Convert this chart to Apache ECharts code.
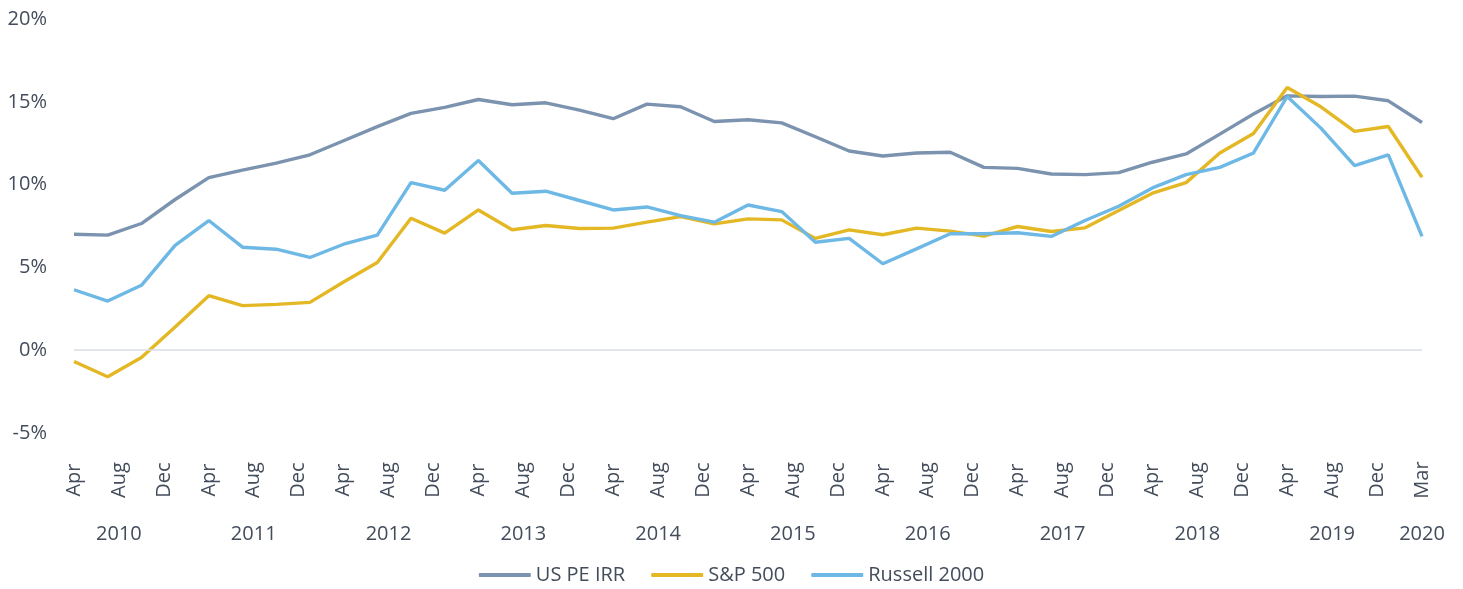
<!DOCTYPE html>
<html>
<head>
<meta charset="utf-8">
<script src="https://cdn.jsdelivr.net/npm/echarts@6/dist/echarts.min.js"></script>
<style>
  html, body { margin: 0; padding: 0; background: #fff; }
  #chart { width: 1463px; height: 589px; }
</style>
</head>
<body>
<div id="chart"></div>
<script>
// quarter-end dates, Mar 2010 .. Mar 2020
const quarters = [
  '2010-03', '2010-06', '2010-09', '2010-12',
  '2011-03', '2011-06', '2011-09', '2011-12',
  '2012-03', '2012-06', '2012-09', '2012-12',
  '2013-03', '2013-06', '2013-09', '2013-12',
  '2014-03', '2014-06', '2014-09', '2014-12',
  '2015-03', '2015-06', '2015-09', '2015-12',
  '2016-03', '2016-06', '2016-09', '2016-12',
  '2017-03', '2017-06', '2017-09', '2017-12',
  '2018-03', '2018-06', '2018-09', '2018-12',
  '2019-03', '2019-06', '2019-09', '2019-12',
  '2020-03'
]

const usPeIrr = [7.0, 6.95, 7.65, 9.1, 10.42, 10.87, 11.3, 11.8, 12.65, 13.5, 14.3, 14.66, 15.14,
  14.82, 14.94, 14.5, 13.98, 14.86, 14.7, 13.81, 13.92, 13.73, 12.89, 12.03, 11.73, 11.91, 11.95,
  11.04, 10.98, 10.64, 10.6, 10.72, 11.35, 11.85, 13.05, 14.26, 15.36, 15.32, 15.34, 15.06, 13.75]

const sp500 = [-0.68, -1.6, -0.44, 1.4, 3.29, 2.69, 2.77, 2.89, 4.12, 5.3, 7.97, 7.07, 8.47,
  7.27, 7.53, 7.35, 7.37, 7.73, 8.07, 7.63, 7.93, 7.87, 6.75, 7.27, 6.97, 7.37, 7.19,
  6.89, 7.47, 7.17, 7.39, 8.43, 9.48, 10.12, 11.91, 13.09, 15.86, 14.7, 13.21, 13.51, 10.44]

const russell2000 = [3.65, 2.97, 3.92, 6.33, 7.83, 6.22, 6.1, 5.6, 6.4, 6.95, 10.12, 9.66, 11.45,
  9.48, 9.6, 9.04, 8.47, 8.65, 8.13, 7.73, 8.77, 8.37, 6.52, 6.75, 5.22, 6.12, 7.03,
  7.03, 7.09, 6.87, 7.83, 8.69, 9.8, 10.6, 11.04, 11.91, 15.32, 13.41, 11.14, 11.8, 6.87]

const monthNames = ['Jan', 'Feb', 'Mar', 'Apr', 'May', 'Jun', 'Jul', 'Aug', 'Sep', 'Oct', 'Nov', 'Dec']

// x axis runs in months, 0 = 1 Apr 2010 (end of Mar 2010), 120 = 31 Mar 2020
const X_MAX = 120
function monthOffset(q) {
  let [y, m] = q.split('-').map(Number)
  return (y - 2010) * 12 + (m - 3)
}
function tickDate(v) {
  // the axis end is shown as the last day of the period
  return new Date(2010, 3 + v, v === X_MAX ? 0 : 1)
}
function pairs(values) {
  return quarters.map((q, i) => [monthOffset(q), values[i]])
}

const textColor = '#434c5b'
const font = '"Open Sans", sans-serif'

let chart = echarts.init(document.getElementById('chart'))
chart.setOption({
  animation: false,
  textStyle: { fontFamily: font },
  grid: { left: 74, right: 41, top: 19, bottom: 156 },
  legend: {
    top: 560,
    left: 'center',
    icon: 'roundRect',
    itemWidth: 52,
    itemHeight: 4,
    itemGap: 26,
    textStyle: { color: textColor, fontSize: 20, fontFamily: font },
    data: ['US PE IRR', 'S&P 500', 'Russell 2000']
  },
  xAxis: [
    {
      type: 'value',
      min: 0,
      max: X_MAX,
      interval: 4,
      axisLine: { show: false },
      axisTick: { show: false },
      splitLine: { show: false },
      axisLabel: {
        rotate: 90,
        align: 'center',
        verticalAlign: 'middle',
        margin: 47,
        color: textColor,
        fontSize: 20,
        fontFamily: font,
        formatter: v => monthNames[tickDate(v).getMonth()]
      }
    },
    {
      type: 'value',
      position: 'bottom',
      min: 0,
      max: X_MAX,
      interval: 4,
      axisLine: { show: false },
      axisTick: { show: false },
      splitLine: { show: false },
      axisLabel: {
        margin: 91,
        color: textColor,
        fontSize: 20,
        fontFamily: font,
        formatter: v => {
          let d = tickDate(v)
          return (d.getMonth() === 7 || v === X_MAX) ? String(d.getFullYear()) : ''
        }
      }
    }
  ],
  yAxis: {
    type: 'value',
    min: -5,
    max: 20,
    interval: 5,
    axisLine: { show: false },
    axisTick: { show: false },
    splitLine: { show: false },
    axisLabel: {
      margin: 27,
      color: textColor,
      fontSize: 20,
      fontFamily: font,
      formatter: '{value}%'
    }
  },
  series: [
    {
      name: 'US PE IRR',
      type: 'line',
      data: pairs(usPeIrr),
      showSymbol: false,
      color: '#7b93ae',
      lineStyle: { width: 3.4, color: '#7b93ae' },
      markLine: {
        silent: true,
        symbol: ['none', 'none'],
        label: { show: false },
        lineStyle: { color: '#d9dee6', width: 1.5, type: 'solid' },
        data: [{ yAxis: 0 }]
      }
    },
    {
      name: 'S&P 500',
      type: 'line',
      data: pairs(sp500),
      showSymbol: false,
      color: '#e3b824',
      lineStyle: { width: 3.4, color: '#e3b824' }
    },
    {
      name: 'Russell 2000',
      type: 'line',
      data: pairs(russell2000),
      showSymbol: false,
      color: '#6db8e5',
      lineStyle: { width: 3.4, color: '#6db8e5' }
    }
  ]
})
</script>
</body>
</html>
